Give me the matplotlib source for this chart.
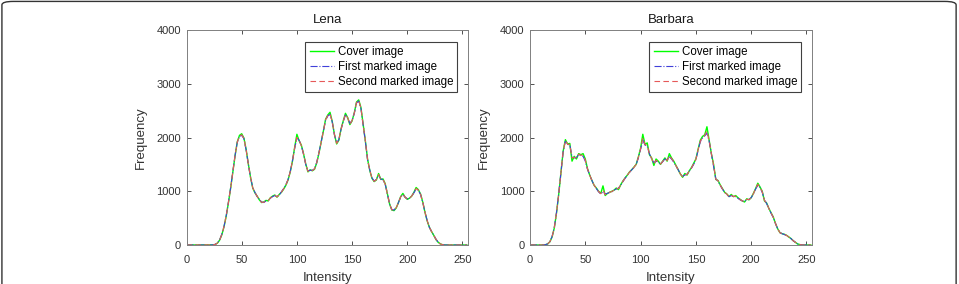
import numpy as np
import matplotlib
matplotlib.use("Agg")
import matplotlib.pyplot as plt
from matplotlib.patches import FancyBboxPatch

plt.rcParams['font.family'] = ['Liberation Sans', 'DejaVu Sans']

# intensity levels (every second grey level)
levels = list(range(0, 256, 2))

lena_cover = [
    0, 0, 0, 0, 0, 0, 0, 0, 0, 0, 0, 0, 2, 10, 35, 90,
    190, 340, 540, 790, 1060, 1360, 1660, 1920, 2040, 2070, 1990, 1780, 1510, 1260, 1060, 970,
    910, 840, 790, 800, 830, 820, 880, 910, 930, 890, 940, 980, 1040, 1110, 1210, 1360,
    1560, 1820, 2060, 1940, 1860, 1700, 1510, 1360, 1400, 1380, 1410, 1530, 1710, 1910, 2120, 2340,
    2420, 2470, 2300, 2060, 1880, 1950, 2160, 2310, 2450, 2370, 2240, 2310, 2460, 2660, 2700, 2560,
    2250, 1940, 1600, 1390, 1240, 1180, 1210, 1330, 1220, 1230, 1140, 950, 760, 650, 640, 690,
    790, 900, 960, 890, 850, 870, 910, 980, 1070, 1030, 950, 800, 610, 450, 330, 250,
    180, 100, 50, 20, 5, 0, 0, 0, 0, 0, 0, 0, 0, 0, 0, 0]
lena_first = [
    0, 0, 0, 0, 0, 0, 0, 0, 0, 0, 0, 0, 3, 12, 38, 95,
    200, 350, 550, 800, 1070, 1370, 1670, 1910, 2020, 2040, 1980, 1770, 1500, 1260, 1070, 980,
    900, 850, 800, 790, 820, 830, 870, 900, 920, 900, 930, 990, 1050, 1120, 1220, 1370,
    1570, 1800, 1990, 1950, 1850, 1690, 1500, 1380, 1390, 1390, 1420, 1540, 1720, 1920, 2110, 2320,
    2400, 2430, 2290, 2050, 1900, 1960, 2150, 2300, 2420, 2360, 2260, 2320, 2450, 2640, 2680, 2540,
    2240, 1930, 1590, 1400, 1250, 1190, 1220, 1300, 1230, 1210, 1130, 950, 760, 660, 650, 700,
    790, 890, 940, 890, 860, 870, 910, 970, 1040, 1020, 940, 800, 610, 460, 330, 250,
    180, 110, 50, 20, 5, 0, 0, 0, 0, 0, 0, 0, 0, 0, 0, 0]
lena_second = [
    0, 0, 0, 0, 0, 0, 0, 0, 0, 0, 0, 0, 2, 11, 36, 92,
    195, 345, 545, 795, 1065, 1365, 1665, 1915, 2030, 2050, 1985, 1775, 1505, 1265, 1065, 975,
    905, 845, 795, 795, 825, 825, 875, 905, 925, 895, 935, 985, 1045, 1115, 1215, 1365,
    1565, 1810, 2000, 1945, 1855, 1695, 1505, 1370, 1395, 1385, 1415, 1535, 1715, 1915, 2115, 2330,
    2410, 2440, 2295, 2055, 1890, 1955, 2155, 2305, 2430, 2365, 2250, 2315, 2455, 2650, 2690, 2550,
    2245, 1935, 1595, 1395, 1245, 1185, 1215, 1310, 1225, 1220, 1135, 950, 760, 655, 645, 695,
    790, 895, 950, 890, 855, 870, 910, 975, 1050, 1025, 945, 800, 610, 455, 330, 250,
    180, 105, 50, 20, 5, 0, 0, 0, 0, 0, 0, 0, 0, 0, 0, 0]

barbara_cover = [
    0, 0, 0, 0, 0, 0, 0, 5, 20, 60, 150, 320, 600, 950, 1350, 1750,
    1960, 1880, 1890, 1560, 1650, 1600, 1700, 1680, 1700, 1600, 1420, 1300, 1200, 1110, 1060, 1000,
    960, 1100, 920, 960, 980, 1000, 1020, 1060, 1030, 1120, 1190, 1250, 1300, 1360, 1400, 1450,
    1500, 1640, 1800, 2060, 1870, 1900, 1680, 1620, 1480, 1600, 1560, 1500, 1560, 1620, 1560, 1700,
    1620, 1560, 1480, 1400, 1320, 1260, 1330, 1300, 1380, 1440, 1520, 1600, 1780, 1950, 2020, 2050,
    2200, 1950, 1700, 1500, 1220, 1200, 1120, 1050, 980, 950, 900, 940, 900, 920, 880, 850,
    820, 800, 860, 840, 880, 960, 1050, 1150, 1080, 1000, 820, 780, 680, 600, 520, 400,
    300, 230, 210, 200, 180, 150, 120, 80, 50, 20, 8, 0, 0, 0, 0, 0]
barbara_first = [
    0, 0, 0, 0, 0, 0, 0, 6, 22, 65, 160, 330, 610, 960, 1360, 1740,
    1930, 1870, 1860, 1640, 1620, 1630, 1680, 1660, 1650, 1560, 1410, 1300, 1200, 1110, 1050, 990,
    950, 990, 950, 960, 980, 990, 1020, 1040, 1060, 1110, 1180, 1240, 1300, 1350, 1400, 1440,
    1500, 1620, 1780, 1950, 1860, 1840, 1700, 1600, 1530, 1560, 1540, 1510, 1550, 1600, 1580, 1640,
    1600, 1540, 1470, 1400, 1320, 1280, 1300, 1320, 1370, 1430, 1500, 1590, 1760, 1920, 1990, 2030,
    2080, 1930, 1700, 1480, 1230, 1190, 1110, 1040, 980, 940, 900, 920, 900, 900, 870, 840,
    820, 810, 840, 850, 880, 950, 1040, 1110, 1070, 980, 840, 770, 680, 590, 510, 400,
    300, 230, 210, 195, 175, 150, 120, 80, 50, 20, 8, 0, 0, 0, 0, 0]
barbara_second = [
    0, 0, 0, 0, 0, 0, 0, 5, 21, 62, 155, 325, 605, 955, 1355, 1745,
    1940, 1875, 1870, 1620, 1630, 1620, 1690, 1670, 1670, 1580, 1415, 1300, 1200, 1110, 1055, 995,
    955, 1020, 935, 960, 980, 995, 1020, 1050, 1050, 1115, 1185, 1245, 1300, 1355, 1400, 1445,
    1500, 1630, 1790, 1990, 1865, 1860, 1690, 1610, 1510, 1575, 1550, 1505, 1555, 1610, 1570, 1660,
    1610, 1550, 1475, 1400, 1320, 1270, 1310, 1310, 1375, 1435, 1510, 1595, 1770, 1930, 2000, 2040,
    2120, 1940, 1700, 1490, 1225, 1195, 1115, 1045, 980, 945, 900, 930, 900, 910, 875, 845,
    820, 805, 850, 845, 880, 955, 1045, 1130, 1075, 990, 830, 775, 680, 595, 515, 400,
    300, 230, 210, 198, 178, 150, 120, 80, 50, 20, 8, 0, 0, 0, 0, 0]

titles = ['Lena', 'Barbara']
series_names = ['Cover image', 'First marked image', 'Second marked image']
data = [(lena_cover, lena_first, lena_second),
        (barbara_cover, barbara_first, barbara_second)]

W, H = 959, 284
fig = plt.figure(figsize=(W / 100, H / 100), dpi=100)

axcol = '#333333'
boxes = [(186.5, 30, 468, 245), (530, 30, 812, 245)]

for (x0, y0, x1, y1), title, (cov, m1, m2) in zip(boxes, titles, data):
    ax = fig.add_axes([x0 / W, 1 - y1 / H, (x1 - x0) / W, (y1 - y0) / H])
    ax.plot(levels, cov, color=(0, 1, 0), lw=1.0, label=series_names[0])
    ax.plot(levels, m1, color=(0.25, 0.25, 0.85), lw=0.8, ls='-.', label=series_names[1])
    ax.plot(levels, m2, color=(0.9, 0.35, 0.35), lw=0.8, ls=(0, (5, 3)), label=series_names[2])
    ax.set_xlim(0, 255)
    ax.set_ylim(0, 4000)
    ax.set_xticks([0, 50, 100, 150, 200, 250])
    ax.set_yticks([0, 1000, 2000, 3000, 4000])
    ax.tick_params(direction='in', length=3, width=0.6, top=True, right=True,
                   labelsize=8, colors=axcol, pad=4)
    ax.tick_params(axis='x', pad=7)
    for s in ax.spines.values():
        s.set_color('#808080')
        s.set_linewidth(0.7)
    ax.set_title(title, fontsize=9.5, color='#1a1a1a', pad=5)
    ax.set_xlabel('Intensity', fontsize=9.5, color=axcol, labelpad=5)
    ax.set_ylabel('Frequency', fontsize=9.5, color=axcol, labelpad=7)
    leg = ax.legend(loc='upper right', bbox_to_anchor=(0.962, 0.945), fontsize=8.3,
                    handlelength=2.1, handletextpad=0.35, borderpad=0.35,
                    labelspacing=0.28, borderaxespad=0.0, fancybox=False, framealpha=1)
    leg.get_frame().set_edgecolor('#404040')
    leg.get_frame().set_linewidth(0.8)

frame = FancyBboxPatch((0.002, -0.2), 0.995, 1.195, transform=fig.transFigure,
                       boxstyle='round,pad=0,rounding_size=0.012', fill=False,
                       edgecolor='#333333', lw=1.0)
fig.patches.append(frame)

fig.savefig('out.png', dpi=100)
